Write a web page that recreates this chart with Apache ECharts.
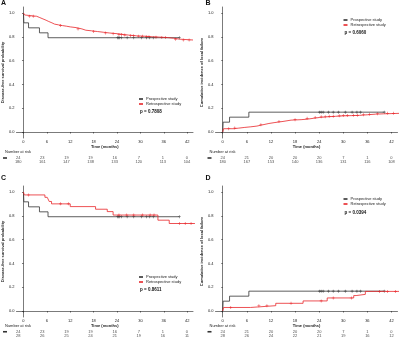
<!DOCTYPE html>
<html>
<head>
<meta charset="utf-8">
<script src="https://cdn.jsdelivr.net/npm/echarts@6/dist/echarts.min.js"></script>
<style>
html, body { margin: 0; padding: 0; background: #fff; }
#chart { width: 400px; height: 343px; }
</style>
</head>
<body>
<div id="chart"></div>
<script>
// shared ticks
const timeTicks = [0, 6, 12, 18, 24, 30, 36, 42];
const probTicks = [0, 0.2, 0.4, 0.6, 0.8, 1.0];

// A: disease-free survival, all patients
const aProT = [0, 0.1, 1.3, 4.1, 6.3, 40];
const aProS = [1, 0.917, 0.875, 0.833, 0.792, 0.792];
const aProCens = [24.1, 24.4, 24.7, 25.1, 26.6, 28.3, 30.3, 31.6, 32.4, 33.3, 40];
const aRetT = [0, 0.3, 0.8, 3.4, 4.2, 5, 5.8, 6.5, 7.3, 8, 9, 10, 11, 12, 13.5, 15, 16, 17.5, 19, 20.5, 22, 24, 25.5, 27, 29, 31, 33, 35, 37, 38.5, 40, 43.5];
const aRetS = [1, 0.983, 0.972, 0.961, 0.95, 0.939, 0.928, 0.917, 0.906, 0.9, 0.894, 0.889, 0.883, 0.877, 0.866, 0.855, 0.85, 0.844, 0.838, 0.832, 0.826, 0.82, 0.814, 0.808, 0.805, 0.8, 0.797, 0.793, 0.788, 0.78, 0.773, 0.773];
const aRetCens = [1.5, 2.5, 9.5, 14, 18, 21, 23, 24.5, 25.2, 26, 27.5, 28.2, 29.5, 30.5, 31.5, 32.2, 34, 35.5, 36.5, 39, 41, 42.5];
const aRiskPro = [24, 23, 19, 19, 16, 7, 1, 0];
const aRiskRet = [180, 161, 147, 138, 133, 120, 113, 104];

// B: cumulative incidence of local failure, all patients
const bProT = [0, 0.1, 1.7, 6.5, 40.2];
const bProS = [0, 0.083, 0.125, 0.167, 0.167];
const bProCens = [24.1, 24.5, 25, 26.3, 27.5, 28.8, 30.5, 32.2, 33.4, 34.3, 40.2];
const bRetT = [0, 0.2, 2.7, 4, 5.5, 7, 8.5, 10, 11.5, 13, 15, 17, 19.5, 21, 22.5, 24, 26, 28, 30, 32, 34, 36, 38, 40, 44];
const bRetS = [0, 0.028, 0.033, 0.039, 0.044, 0.05, 0.061, 0.072, 0.08, 0.089, 0.1, 0.104, 0.108, 0.115, 0.122, 0.128, 0.132, 0.136, 0.138, 0.14, 0.145, 0.15, 0.153, 0.157, 0.157];
const bRetCens = [1.5, 3, 9.5, 14, 18, 21, 23, 24.5, 25.5, 26.5, 27.5, 29, 30, 31, 32.5, 33.5, 35, 36.5, 38.5, 41, 42.5];
const bRiskPro = [24, 21, 20, 20, 20, 7, 1, 0];
const bRiskRet = [180, 167, 153, 140, 136, 131, 116, 108];

// C: disease-free survival, matched subgroup
const cProT = [0, 0.1, 1.3, 4.1, 6.3, 40];
const cProS = [1, 0.917, 0.875, 0.833, 0.792, 0.792];
const cProCens = [24.1, 24.4, 24.7, 25.1, 26.6, 28.3, 30.3, 31.6, 32.4, 33.3, 40];
const cRetT = [0, 0.2, 5.5, 6.1, 6.6, 7.2, 12, 18.5, 21.5, 23, 34.5, 37.4, 44];
const cRetS = [1, 0.975, 0.955, 0.94, 0.92, 0.9, 0.877, 0.855, 0.835, 0.806, 0.763, 0.735, 0.735];
const cRetCens = [1.3, 9.5, 11.5, 24.5, 26.5, 28.3, 30.5, 32.5, 33.5, 40, 41.5, 43];
const cRiskPro = [24, 23, 19, 19, 16, 7, 1, 0];
const cRiskRet = [28, 26, 25, 24, 21, 19, 16, 11];

// D: cumulative incidence of local failure, matched subgroup
const dProT = [0, 0.1, 1.7, 6.5, 40.2];
const dProS = [0, 0.083, 0.125, 0.167, 0.167];
const dProCens = [24.1, 24.5, 25, 26.3, 27.5, 28.8, 30.5, 32.2, 33.4, 34.3, 40.2];
const dRetT = [0, 0.2, 6.9, 13.2, 20, 26, 32.6, 33.2, 35.5, 44];
const dRetS = [0, 0.03, 0.045, 0.065, 0.085, 0.11, 0.13, 0.14, 0.165, 0.165];
const dRetCens = [2, 9, 11, 17, 24.5, 27.5, 32, 39, 41, 43];
const dRiskPro = [24, 21, 20, 20, 20, 7, 1, 0];
const dRiskRet = [28, 26, 24, 22, 21, 19, 16, 12];

const pValues = ['p = 0.7808', 'p = 0.6060', 'p = 0.8611', 'p = 0.0394'];
const yTitles = ['Disease-free survival probability', 'Cumulative incidence of local failure',
  'Disease-free survival probability', 'Cumulative incidence of local failure'];
const letters = ['A', 'B', 'C', 'D'];

const BLACK = '#333333';
const RED = '#e8262a';
const FONT = 'Liberation Sans';

const panels = [
  { pro: [aProT, aProS, aProCens], ret: [aRetT, aRetS, aRetCens], risk: [aRiskPro, aRiskRet],
    left: 11, top: 7, tableTop: 156, tableH: 8, narTop: 150, legTop: 97, pTop: 109, letterTop: 0 },
  { pro: [bProT, bProS, bProCens], ret: [bRetT, bRetS, bRetCens], risk: [bRiskPro, bRiskRet],
    left: 215.5, top: 7, tableTop: 156, tableH: 8, narTop: 150, legTop: 18, pTop: 30, letterTop: 0 },
  { pro: [cProT, cProS, cProCens], ret: [cRetT, cRetS, cRetCens], risk: [cRiskPro, cRiskRet],
    left: 11, top: 186, tableTop: 329.5, tableH: 9, narTop: 324, legTop: 275, pTop: 287, letterTop: 175 },
  { pro: [dProT, dProS, dProCens], ret: [dRetT, dRetS, dRetCens], risk: [dRiskPro, dRiskRet],
    left: 215.5, top: 186, tableTop: 329.5, tableH: 9, narTop: 324, legTop: 197, pTop: 210, letterTop: 175 }
];

// value of a step curve at time t
function stepAt(ts, ss, t) {
  let v = ss[0];
  for (let i = 0; i < ts.length; i++) {
    if (ts[i] <= t) v = ss[i];
  }
  return v;
}

const plusSymbol = 'path://M4,0h2v4h4v2h-4v4h-2v-4h-4v-2h4z';

const grid = [], xAxis = [], yAxis = [], series = [], legend = [], title = [];

panels.forEach((p, k) => {
  grid.push({ left: p.left, top: p.top, width: 182, height: 131 });
  xAxis.push({
    type: 'value', gridIndex: k, min: -1.8, max: 43.5,
    name: 'Time (months)', nameLocation: 'middle', nameGap: 6,
    nameTextStyle: { fontSize: 4, fontWeight: 'bold', color: '#222', fontFamily: FONT },
    splitLine: { show: false },
    axisLine: { lineStyle: { color: '#222', width: 0.6 } },
    axisTick: { length: 1.5, lineStyle: { color: '#222', width: 0.6 }, customValues: timeTicks },
    axisLabel: { fontSize: 4, color: '#222', margin: 1.5, fontFamily: FONT, customValues: timeTicks }
  });
  yAxis.push({
    type: 'value', gridIndex: k, min: -0.05, max: 1.05,
    name: yTitles[k], nameLocation: 'middle', nameGap: 9,
    nameTextStyle: { fontSize: 4, fontWeight: 'bold', color: '#222', fontFamily: FONT },
    splitLine: { show: false },
    axisLine: { show: true, lineStyle: { color: '#222', width: 0.6 } },
    axisTick: { show: true, length: 1.5, lineStyle: { color: '#222', width: 0.6 }, customValues: probTicks },
    axisLabel: { fontSize: 4, color: '#222', margin: 2, fontFamily: FONT,
      customValues: probTicks, formatter: v => v.toFixed(1) }
  });

  [[p.pro, 'Prospective study', BLACK], [p.ret, 'Retrospective study', RED]].forEach(([c, name, col]) => {
    series.push({
      type: 'line', name: name, xAxisIndex: k, yAxisIndex: k, step: 'end',
      data: c[0].map((t, i) => [t, c[1][i]]),
      showSymbol: false, symbol: 'none', color: col,
      lineStyle: { color: col, width: 0.8 }, animation: false, silent: true
    });
    series.push({
      type: 'scatter', name: name + ' censored', xAxisIndex: k, yAxisIndex: k,
      data: c[2].map(t => [t, stepAt(c[0], c[1], t)]),
      symbol: plusSymbol, symbolSize: 3, itemStyle: { color: col }, animation: false, silent: true
    });
  });

  legend.push({
    left: p.left + 128, top: p.legTop, orient: 'vertical', itemGap: 1, padding: 0,
    itemWidth: 4, itemHeight: 1.6, icon: 'rect',
    data: ['Prospective study', 'Retrospective study'],
    textStyle: { fontSize: 4, color: '#222', fontFamily: FONT, padding: [0, 0, 0, -2] }
  });
  title.push({ text: letters[k], left: p.left - 10, top: p.letterTop, padding: 0,
    textStyle: { fontSize: 7, fontWeight: 'bold', color: '#111', fontFamily: FONT } });
  title.push({ text: pValues[k], left: p.left + 129, top: p.pTop, padding: 0,
    textStyle: { fontSize: 4.5, fontWeight: 'bold', color: '#111', fontFamily: FONT } });
  title.push({ text: 'Number at risk', left: p.left - 6, top: p.narTop, padding: 0,
    textStyle: { fontSize: 4, fontWeight: 'normal', color: '#222', fontFamily: FONT } });
});

// number at risk tables
panels.forEach((p, k) => {
  const gi = 4 + k;
  grid.push({ left: p.left, top: p.tableTop, width: 182, height: p.tableH });
  xAxis.push({ type: 'value', gridIndex: gi, min: -1.8, max: 43.5, show: false });
  yAxis.push({
    type: 'category', gridIndex: gi, inverse: true,
    data: ['Prospective study', 'Retrospective study'],
    axisLine: { show: false }, axisTick: { show: false },
    axisLabel: {
      margin: 4,
      formatter: (v, i) => (i === 0 ? '{p|}' : '{r|}'),
      rich: {
        p: { backgroundColor: BLACK, width: 4, height: 1.6 },
        r: { backgroundColor: RED, width: 4, height: 1.6 }
      }
    }
  });
  [[p.risk[0], 'Prospective study'], [p.risk[1], 'Retrospective study']].forEach(([arr, row]) => {
    series.push({
      type: 'scatter', name: 'risk ' + row, xAxisIndex: gi, yAxisIndex: gi,
      data: timeTicks.map((t, i) => [t, row, arr[i]]),
      symbolSize: 0, animation: false, silent: true,
      label: { show: true, position: 'inside', formatter: q => q.value[2],
        fontSize: 4, color: '#222', fontFamily: FONT }
    });
  });
});

const chart = echarts.init(document.getElementById('chart'), null, { renderer: 'canvas' });
chart.setOption({ animation: false, backgroundColor: '#fff', grid, xAxis, yAxis, series, legend, title });
</script>
</body>
</html>
